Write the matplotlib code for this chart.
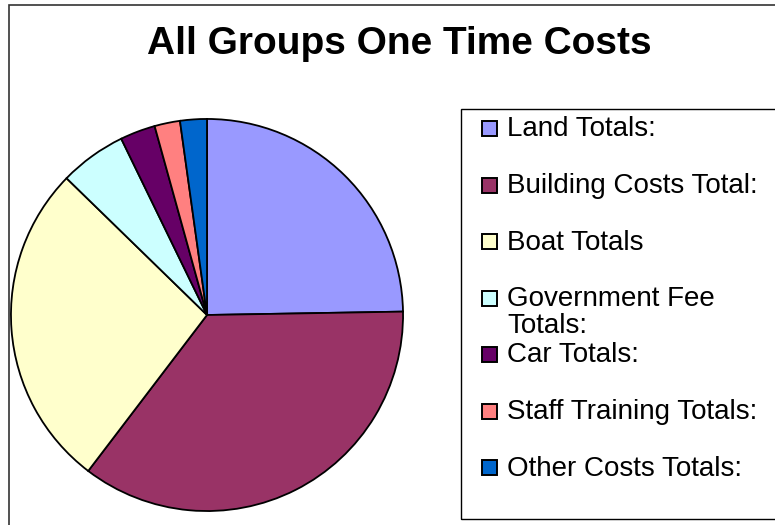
import matplotlib
matplotlib.use("Agg")
import matplotlib.pyplot as plt
from matplotlib.patches import Rectangle

plt.rcParams['font.family'] = ['Liberation Sans', 'DejaVu Sans']

# share of one time costs, going clockwise from 12 o'clock
labels = ['Land Totals:', 'Building Costs Total:', 'Boat Totals',
          'Government Fee\nTotals:', 'Car Totals:', 'Staff Training Totals:',
          'Other Costs Totals:']
values = [24.7, 35.6, 26.9, 5.5, 2.9, 2.1, 2.2]
colors = ['#9999FF', '#993366', '#FFFFCC', '#CCFFFF', '#660066', '#FF8080', '#0066CC']

W, H = 775, 525
fig = plt.figure(figsize=(W / 100, H / 100), dpi=100)

def px(x, y):
    # pixel coords (top-left origin) -> figure fraction
    return x / W, 1 - y / H

# outer chart border
fig.patches.append(Rectangle(px(8.5, 530), (W + 10) / W, 525.5 / H,
                             transform=fig.transFigure, fill=False,
                             edgecolor='#333333', linewidth=1.2))

fig.text(*px(399, 44), 'All Groups One Time Costs', ha='center', va='center',
         fontsize=28, fontweight='bold')

# pie: center (207, 315), radius 198 px
cx, cy, r = 207, 315, 198
ax = fig.add_axes([(cx - r) / W, 1 - (cy + r) / H, 2 * r / W, 2 * r / H])
ax.pie(values, colors=colors, startangle=90, counterclock=False,
       wedgeprops=dict(edgecolor='black', linewidth=1.3))
ax.set_xlim(-1.01, 1.01)
ax.set_ylim(-1.01, 1.01)
ax.set_aspect('equal')

# legend box
fig.patches.append(Rectangle(px(461, 518.5), (W - 461 + 10) / W, 409.5 / H,
                             transform=fig.transFigure, fill=False,
                             edgecolor='black', linewidth=1.0))

y0, step = 129, 56.5
for i, (lab, col) in enumerate(zip(labels, colors)):
    y = y0 + i * step
    fig.patches.append(Rectangle(px(482, y + 7), 15 / W, 15 / H,
                                 transform=fig.transFigure, facecolor=col,
                                 edgecolor='black', linewidth=1.4))
    fig.text(*px(507, y - 12.5), lab, ha='left', va='top', fontsize=20,
             linespacing=1.03)

fig.savefig('out.png', dpi=100)
